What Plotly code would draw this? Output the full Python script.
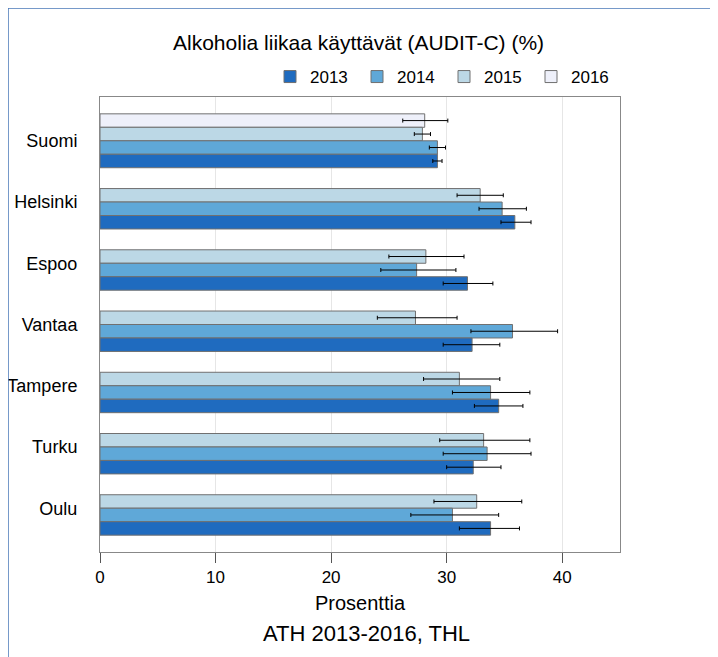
import plotly.graph_objects as go

cities = ["Suomi", "Helsinki", "Espoo", "Vantaa", "Tampere", "Turku", "Oulu"]
years = ["2013", "2014", "2015", "2016"]

val_2013 = [29.2, 35.9, 31.8, 32.2, 34.5, 32.3, 33.8]
lo_2013 = [28.8, 34.7, 29.7, 29.7, 32.4, 30.0, 31.1]
hi_2013 = [29.6, 37.3, 34.0, 34.6, 36.6, 34.7, 36.3]

val_2014 = [29.2, 34.8, 27.4, 35.7, 33.8, 33.5, 30.5]
lo_2014 = [28.5, 32.8, 24.3, 32.1, 30.5, 29.7, 26.9]
hi_2014 = [29.9, 36.9, 30.8, 39.6, 37.2, 37.3, 34.5]

val_2015 = [27.9, 32.9, 28.2, 27.3, 31.1, 33.2, 32.6]
lo_2015 = [27.2, 30.9, 25.0, 24.0, 28.0, 29.4, 28.9]
hi_2015 = [28.6, 34.9, 31.5, 30.9, 34.6, 37.2, 36.5]

val_2016 = [28.1, None, None, None, None, None, None]
lo_2016 = [26.2, None, None, None, None, None, None]
hi_2016 = [30.1, None, None, None, None, None, None]

colors = {"2013": "#1f6bbf", "2014": "#5fa8d8", "2015": "#bcd8e6", "2016": "#eef0fa"}

series = {
    "2013": (val_2013, lo_2013, hi_2013),
    "2014": (val_2014, lo_2014, hi_2014),
    "2015": (val_2015, lo_2015, hi_2015),
    "2016": (val_2016, lo_2016, hi_2016),
}

fig = go.Figure()
for yr in ["2016", "2015", "2014", "2013"]:
    v, lo, hi = series[yr]
    plus = [None if a is None else h - a for a, h in zip(v, hi)]
    minus = [None if a is None else a - l for a, l in zip(v, lo)]
    fig.add_trace(go.Bar(
        name=yr, y=cities, x=v, orientation="h",
        marker=dict(color=colors[yr], line=dict(color="#707070", width=1)),
        error_x=dict(type="data", symmetric=False, array=plus, arrayminus=minus,
                     color="black", thickness=1, width=2),
    ))

# page has an 8px body margin; work in page coordinates and offset
OFF = 8
W, H = 718 - OFF, 657 - OFF
L, R, T, B = 100 - OFF, 620 - OFF, 97 - OFF, 552 - OFF
def px(x):
    return (x - OFF - L) / (R - L)
def py(y):
    return (B - (y - OFF)) / (B - T)

fig.update_layout(
    width=W, height=H,
    margin=dict(l=L, r=W - R, t=T, b=H - B, autoexpand=False),
    paper_bgcolor="white", plot_bgcolor="white",
    font=dict(family="Liberation Sans, Arial, sans-serif", size=17, color="black"),
    barmode="group", bargap=0.12, bargroupgap=0,
    showlegend=True,
    legend=dict(orientation="h", traceorder="reversed", x=px(270), xanchor="left",
                y=py(77), yanchor="middle", font=dict(size=17),
                entrywidth=42, entrywidthmode="pixels",
                bgcolor="rgba(0,0,0,0)"),
    xaxis=dict(range=[0, 45], tickvals=[0, 10, 20, 30, 40], ticks="outside",
               ticklen=10, tickcolor="#555", showline=True, linecolor="#888",
               mirror=True, showgrid=True, gridcolor="#e6e6e6", zeroline=False,
               tickfont=dict(size=17), automargin=False,
               title=dict(text="Prosenttia", font=dict(size=20), standoff=9)),
    yaxis=dict(range=[6.715, -0.715], showline=True, linecolor="#888", mirror=True,
               ticks="", showgrid=False, tickfont=dict(size=18),
               ticklabelstandoff=18, automargin=False),
    shapes=[dict(type="rect", xref="paper", yref="paper",
                 x0=px(8), y0=py(700), x1=px(760), y1=py(8),
                 line=dict(color="#4a78b8", width=1.5), layer="above")],
    annotations=[
        dict(text="Alkoholia liikaa käyttävät (AUDIT-C) (%)", xref="paper", yref="paper",
             x=px(358), y=py(43), showarrow=False, font=dict(size=21),
             xanchor="center", yanchor="middle"),
        dict(text="ATH 2013-2016, THL", xref="paper", yref="paper",
             x=px(366), y=py(633), showarrow=False, font=dict(size=22),
             xanchor="center", yanchor="middle"),
    ],
)
fig.write_html("out.html")
